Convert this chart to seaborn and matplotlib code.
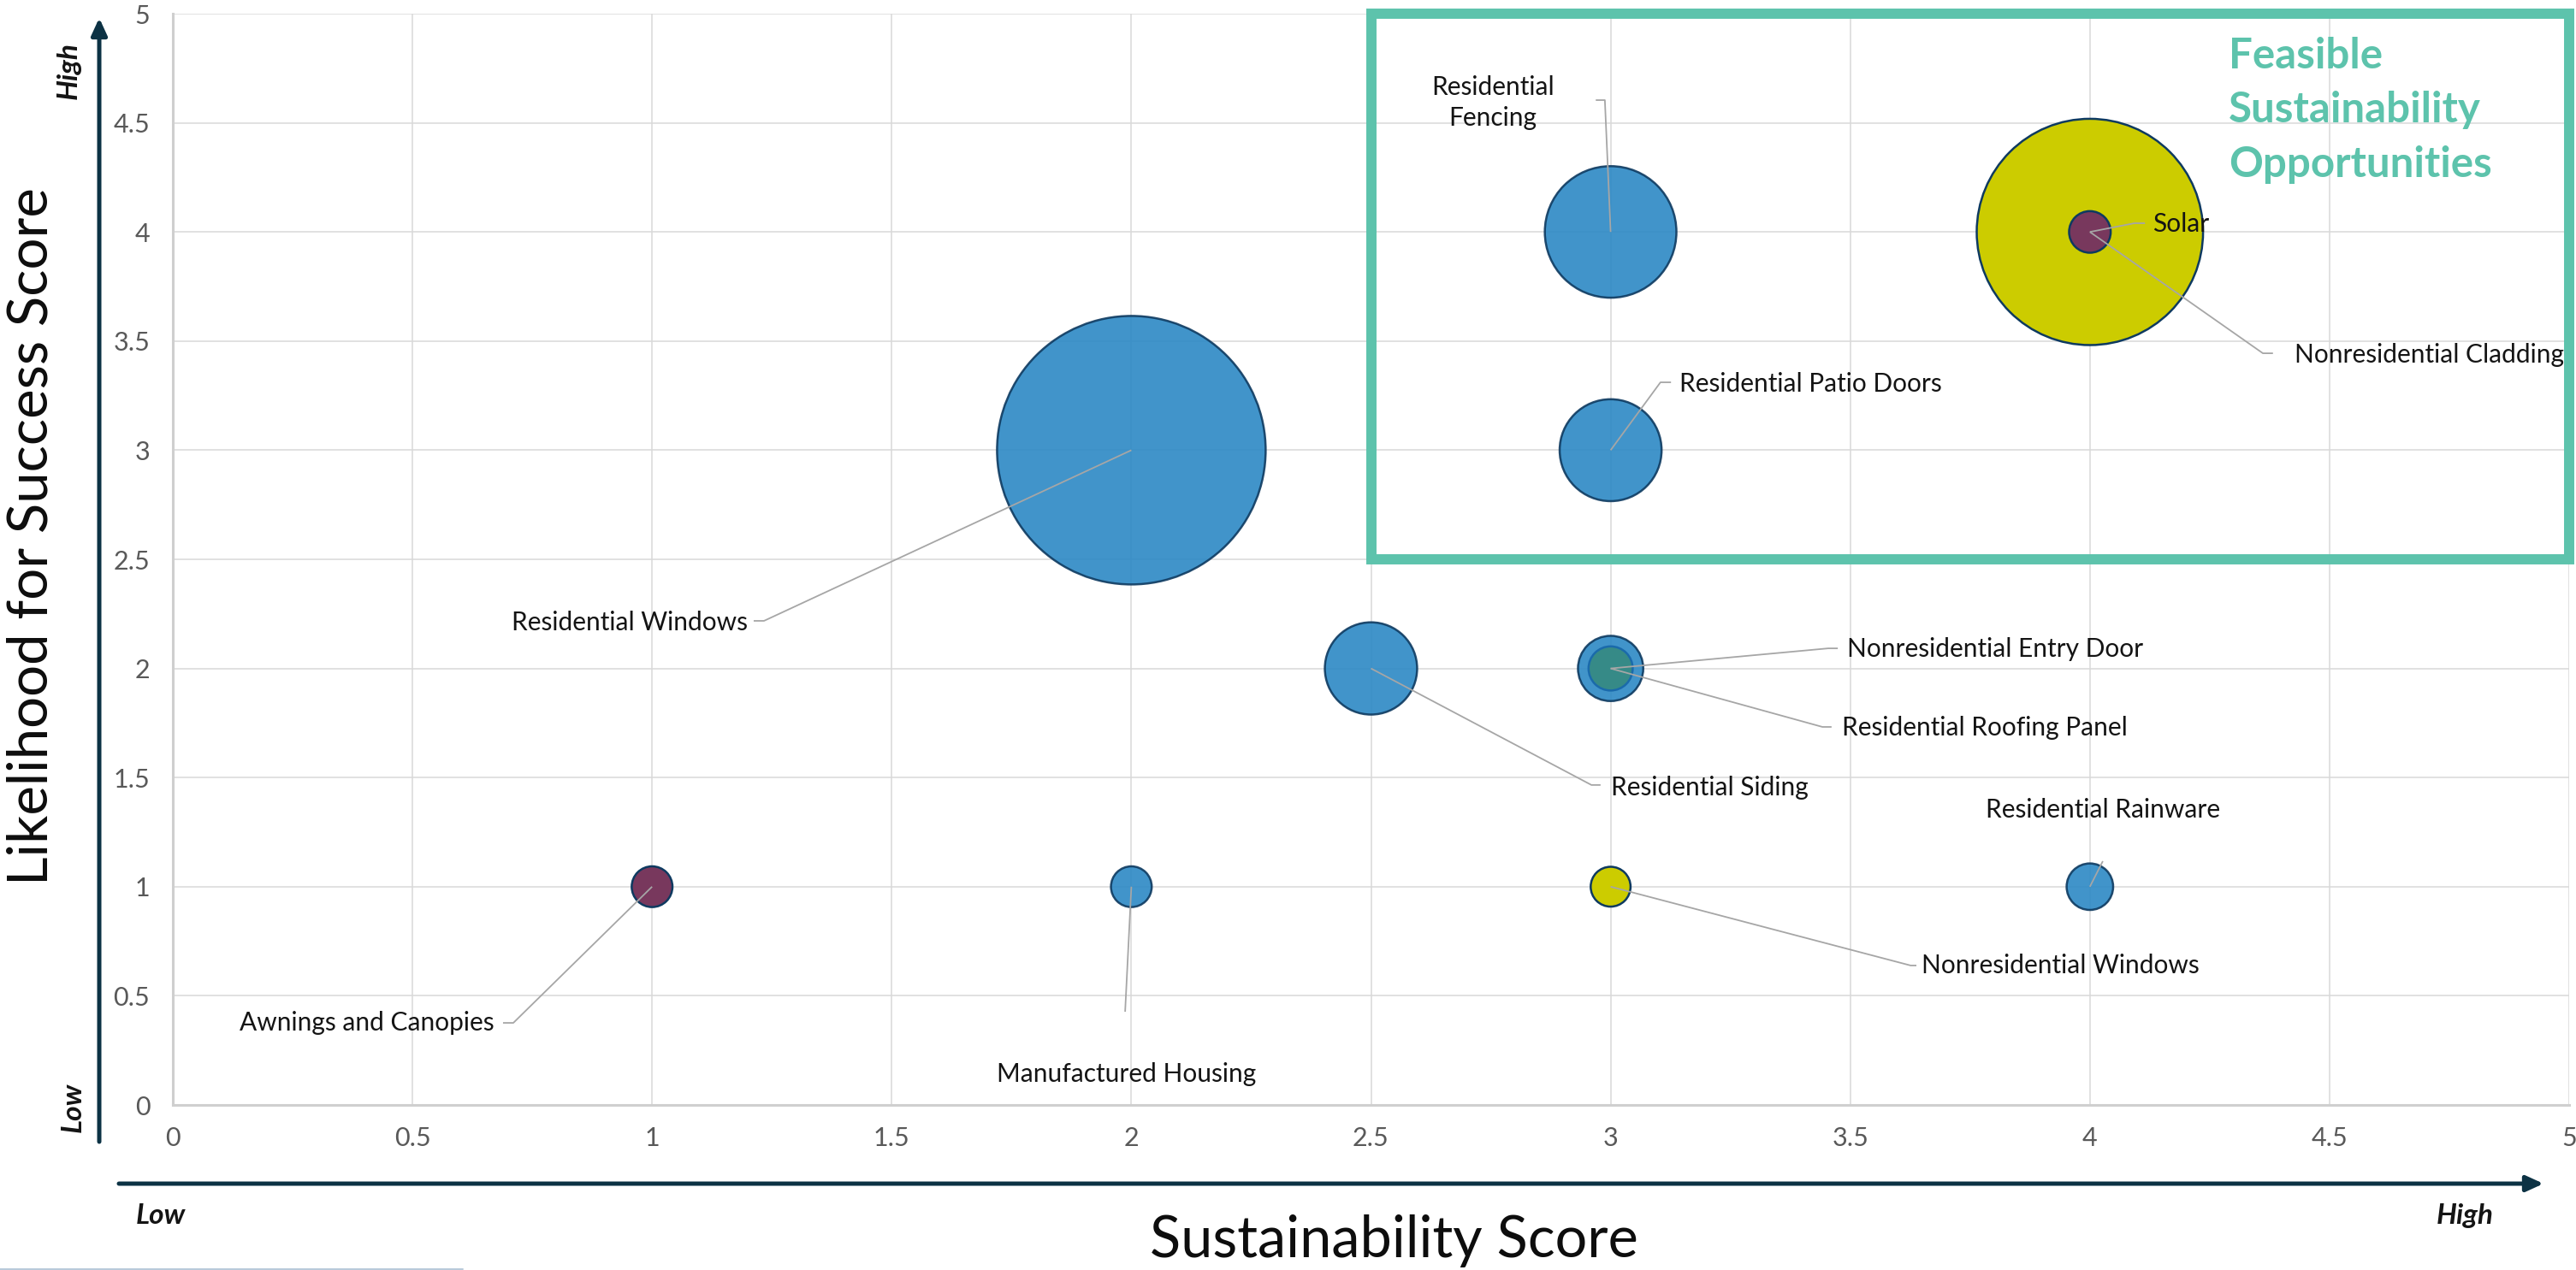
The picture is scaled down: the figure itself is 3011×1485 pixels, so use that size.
import matplotlib
matplotlib.use("Agg")
import matplotlib.pyplot as plt
from matplotlib.patches import Rectangle, FancyArrowPatch
from matplotlib.lines import Line2D
import seaborn as sns
import pandas as pd

# ---- data -------------------------------------------------------------
products = [
    "Residential Windows", "Residential Fencing", "Nonresidential Cladding",
    "Residential Patio Doors", "Residential Siding", "Nonresidential Entry Door",
    "Residential Roofing Panel", "Residential Rainware", "Manufactured Housing",
    "Awnings and Canopies", "Nonresidential Windows", "Solar",
]
sustainability_score = [2, 3, 4, 3, 2.5, 3, 3, 4, 2, 1, 3, 4]
success_score = [3, 4, 4, 3, 2, 2, 2, 1, 1, 1, 1, 4]
bubble_value = [100, 24, 71, 14.4, 11.8, 5.9, 2.7, 3.0, 2.3, 2.3, 2.2, 2.4]
bubble_group = ["blue", "blue", "olive", "blue", "blue", "blue",
                "teal", "blue", "blue", "plum", "olive", "plum"]

x_ticks = [0, 0.5, 1, 1.5, 2, 2.5, 3, 3.5, 4, 4.5, 5]
x_tick_labels = ["0", "0.5", "1", "1.5", "2", "2.5", "3", "3.5", "4", "4.5", "5"]
y_ticks = [0, 0.5, 1, 1.5, 2, 2.5, 3, 3.5, 4, 4.5, 5]
y_tick_labels = ["0", "0.5", "1", "1.5", "2", "2.5", "3", "3.5", "4", "4.5", "5"]

x_title = "Sustainability Score"
y_title = "Likelihood for Success Score"
zone_title = ["Feasible", "Sustainability", "Opportunities"]
zone_bounds = (2.5, 2.5, 5.0, 5.0)   # x0, y0, x1, y1 of the opportunity zone

df = pd.DataFrame({
    "product": products,
    "sustainability": sustainability_score,
    "success": success_score,
    "value": bubble_value,
    "group": bubble_group,
})

# ---- styling ----------------------------------------------------------
sns.set_theme(style="white")
plt.rcParams["font.family"] = ["Lato", "DejaVu Sans"]

palette = {"blue": "#2C88C5", "olive": "#CCCC00", "plum": "#78385D", "teal": "#368A87"}
edge_dark = "#0E3A60"
edge_teal = "#1A6AAB"
grid_color = "#D9D9D9"
label_color = "#141414"
leader_color = "#A6A6A6"
zone_color = "#5DC3AC"
arrow_color = "#0C3244"

W, H, DPI = 3011, 1485, 100
fig = plt.figure(figsize=(W / DPI, H / DPI), dpi=DPI)
ax = fig.add_axes([202 / W, (H - 1292) / H, 2801 / W, 1276 / H])

# bubble area proportional to value; marker size in points^2
size_norm = (0, 100)
size_range = (0, 51100)

df_sorted = df.sort_values("value", ascending=False)
blue_part = df_sorted[df_sorted["group"] == "blue"]
other_part = df_sorted[df_sorted["group"] != "blue"]

for part, alpha in ((blue_part, 0.9), (other_part, 1.0)):
    sns.scatterplot(
        data=part, x="sustainability", y="success", hue="group", size="value",
        palette=palette, sizes=size_range, size_norm=size_norm,
        alpha=alpha, legend=False, ax=ax, zorder=3, linewidth=1.8,
    )
for coll, part in zip(ax.collections, (blue_part, other_part)):
    coll.set_edgecolor([edge_teal if g == "teal" else edge_dark for g in part["group"]])

# ---- axes, grid, ticks ------------------------------------------------
ax.set_xlim(0, 5)
ax.set_ylim(0, 5)
ax.set_xticks(x_ticks)
ax.set_xticklabels(x_tick_labels)
ax.set_yticks(y_ticks)
ax.set_yticklabels(y_tick_labels)
ax.set_xlabel("")
ax.set_ylabel("")
ax.grid(True, color=grid_color, linewidth=1.1)
ax.set_axisbelow(True)
for side in ("top", "right"):
    ax.spines[side].set_visible(False)
for side in ("left", "bottom"):
    ax.spines[side].set_color("#CFCFCF")
    ax.spines[side].set_linewidth(2.2)
ax.tick_params(axis="both", which="major", length=7.2, width=1.1, color=grid_color,
               labelsize=22, labelcolor="#595959", direction="out")
ax.tick_params(axis="x", pad=11)
ax.tick_params(axis="y", pad=12)

# ---- data labels with leader lines ------------------------------------
label_layout = {
    "Residential Windows": dict(xy=(1.1996, 2.210), ha="right", path=[(1.2335, 2.218), (1.212, 2.218)]),
    "Residential Fencing": dict(xy=(2.754, 4.592), ha="center", path=[(2.988, 4.604), (2.969, 4.604)],
                                text="Residential\nFencing"),
    "Nonresidential Cladding": dict(xy=(4.427, 3.437), ha="left", path=[(4.361, 3.444), (4.382, 3.444)]),
    "Solar": dict(xy=(4.131, 4.036), ha="left", path=[(4.093, 4.040), (4.115, 4.040)]),
    "Residential Patio Doors": dict(xy=(3.143, 3.303), ha="left", path=[(3.104, 3.311), (3.126, 3.311)]),
    "Nonresidential Entry Door": dict(xy=(3.493, 2.089), ha="left", path=[(3.454, 2.092), (3.474, 2.092)]),
    "Residential Roofing Panel": dict(xy=(3.483, 1.728), ha="left", path=[(3.442, 1.732), (3.461, 1.732)]),
    "Residential Siding": dict(xy=(3.001, 1.454), ha="left", path=[(2.960, 1.466), (2.979, 1.466)]),
    "Residential Rainware": dict(xy=(4.027, 1.352), ha="center", path=[(4.027, 1.117)]),
    "Nonresidential Windows": dict(xy=(3.649, 0.639), ha="left", path=[(3.626, 0.639), (3.638, 0.639)]),
    "Awnings and Canopies": dict(xy=(0.671, 0.376), ha="right", path=[(0.7105, 0.376), (0.689, 0.376)]),
    "Manufactured Housing": dict(xy=(1.989, 0.141), ha="center", path=[(1.987, 0.427)]),
}

for _, row in df.iterrows():
    lay = label_layout[row["product"]]
    pts = [(row["sustainability"], row["success"])] + lay["path"]
    ax.plot([p[0] for p in pts], [p[1] for p in pts], color=leader_color,
            linewidth=1.3, zorder=4, solid_capstyle="butt")
    ax.text(lay["xy"][0], lay["xy"][1], lay.get("text", row["product"]),
            ha=lay["ha"], va="center", fontsize=21.5, color=label_color,
            linespacing=1.35, multialignment="center", zorder=5)

# ---- opportunity zone -------------------------------------------------
x0, y0, x1, y1 = zone_bounds
ax.add_patch(Rectangle((x0, y0), x1 - x0, y1 - y0, fill=False, edgecolor=zone_color,
                       linewidth=8.6, clip_on=False, zorder=6))
for line, y in zip(zone_title, (4.749, 4.502, 4.252)):
    ax.text(4.290, y, line, ha="left", va="baseline", fontsize=35.5,
            fontweight="bold", color=zone_color, zorder=6)

# ---- axis titles and direction arrows ---------------------------------
fig.text(0.541, 0.0101, x_title, ha="center", va="baseline", fontsize=48,
         fontweight="normal", color="#0D0D0D")
fig.text(0.0123, 0.5778, y_title, ha="center", va="center", rotation=90,
         fontsize=47, fontweight="normal", color="#0D0D0D")

arrow_style = "-|>,head_length=1.2,head_width=0.55"
fig.add_artist(FancyArrowPatch((0.03853, 0.1010), (0.03853, 0.98586),
                               transform=fig.transFigure, arrowstyle=arrow_style,
                               mutation_scale=10, linewidth=3.6, color=arrow_color,
                               shrinkA=0, shrinkB=0))
fig.add_artist(FancyArrowPatch((0.04616, 0.0680), (0.98738, 0.0680),
                               transform=fig.transFigure, arrowstyle=arrow_style,
                               mutation_scale=10, linewidth=3.6, color=arrow_color,
                               shrinkA=0, shrinkB=0))

lowhigh = dict(fontsize=24, fontweight="bold", fontstyle="italic", color="#141414")
fig.text(0.0528, 0.0364, "Low", ha="left", va="baseline", **lowhigh)
fig.text(0.9459, 0.0364, "High", ha="left", va="baseline", **lowhigh)
fig.text(0.0266, 0.9441, "High", ha="center", va="center", rotation=90, **lowhigh)
fig.text(0.0282, 0.128, "Low", ha="center", va="center", rotation=90, **lowhigh)

fig.add_artist(Line2D([0, 541 / W], [0.0007, 0.0007], transform=fig.transFigure,
                      color="#B8C9D9", linewidth=1.4))

fig.savefig("out.png", dpi=DPI)
